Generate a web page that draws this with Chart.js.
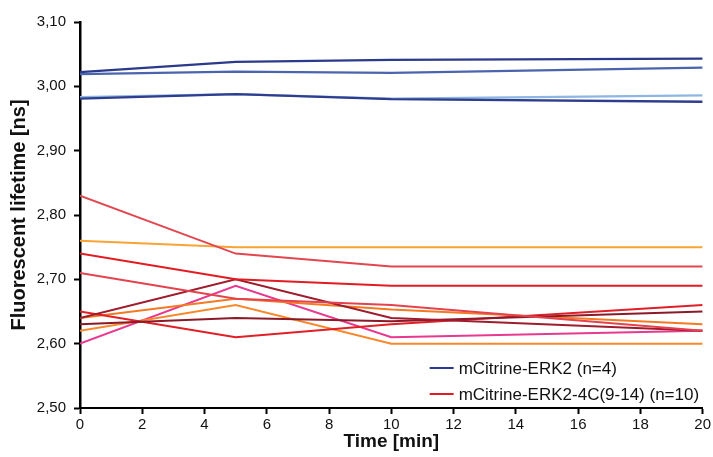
<!DOCTYPE html>
<html><head><meta charset="utf-8">
<script src="https://cdn.jsdelivr.net/npm/chart.js@4"></script>
<style>html,body{margin:0;padding:0;background:#fff}#wrap{width:713px;height:457px}</style>
</head><body><div id="wrap"><canvas id="c" width="713" height="457"></canvas></div>
<script>
const times = [0, 5, 10, 20];
const xTicks = [0, 2, 4, 6, 8, 10, 12, 14, 16, 18, 20];
const yTicks = [2.5, 2.6, 2.7, 2.8, 2.9, 3.0, 3.1];
const legendLabels = ["mCitrine-ERK2 (n=4)", "mCitrine-ERK2-4C(9-14) (n=10)"];

// mCitrine-ERK2 (n=4)
const erk2_1 = [3.022, 3.038, 3.041, 3.043];
const erk2_2 = [3.019, 3.023, 3.021, 3.029];
const erk2_3 = [2.981, 2.988, 2.980, 2.976];
const erk2_4 = [2.983, 2.988, 2.981, 2.986];
const erk2Colors = ["#2c3a8c", "#4a64ae", "#2e3d8e", "#8db6e0"];

// mCitrine-ERK2-4C(9-14) (n=10)
const mut_1 = [2.83, 2.74, 2.72, 2.72];
const mut_2 = [2.76, 2.75, 2.75, 2.75];
const mut_3 = [2.74, 2.70, 2.69, 2.69];
const mut_4 = [2.71, 2.67, 2.66, 2.62];
const mut_5 = [2.64, 2.70, 2.64, 2.62];
const mut_6 = [2.63, 2.64, 2.635, 2.65];
const mut_7 = [2.65, 2.61, 2.63, 2.66];
const mut_8 = [2.64, 2.67, 2.653, 2.63];
const mut_9 = [2.62, 2.66, 2.60, 2.60];
const mut_10 = [2.60, 2.69, 2.61, 2.62];
const mutColors = ["#e2474f", "#f8a435", "#e31b23", "#e4434d", "#9e1c2c", "#8b1a29", "#e11f27", "#f47a22", "#f7892c", "#e8388f"];

const erk2Series = [erk2_1, erk2_2, erk2_3, erk2_4];
const mutSeries = [mut_1, mut_2, mut_3, mut_4, mut_5, mut_6, mut_7, mut_8, mut_9, mut_10];

function mk(vals, color, w) {
  return {
    data: vals.map((v, i) => ({ x: times[i], y: v })),
    borderColor: color, backgroundColor: color, borderWidth: w,
    pointRadius: 0, tension: 0, fill: false
  };
}
const datasets = [];
mutSeries.forEach((s, i) => datasets.push(mk(s, mutColors[i], 2)));
erk2Series.forEach((s, i) => datasets.push(mk(s, erk2Colors[i], 2.3)));

const FONT = "'Liberation Sans', Arial, sans-serif";

const legendPlugin = {
  id: 'insideLegend',
  afterDatasetsDraw(chart) {
    const ctx = chart.ctx, a = chart.chartArea;
    const items = [[legendLabels[0], "#2c3a8c"], [legendLabels[1], "#e31b23"]];
    ctx.save();
    ctx.font = "17px " + FONT;
    ctx.textBaseline = 'middle';
    items.forEach((it, i) => {
      const y = a.bottom - 40 + i * 26;
      const x0 = a.right - 273;
      ctx.strokeStyle = it[1]; ctx.lineWidth = 2;
      ctx.beginPath(); ctx.moveTo(x0, y); ctx.lineTo(x0 + 24, y); ctx.stroke();
      ctx.fillStyle = '#111';
      ctx.fillText(it[0], x0 + 29, y + 1);
    });
    ctx.restore();
  }
};

new Chart(document.getElementById('c'), {
  type: 'line',
  data: { datasets },
  plugins: [legendPlugin],
  options: {
    responsive: false, animation: false,
    layout: { padding: { left: 0, top: 22, right: 7, bottom: 0 } },
    plugins: { legend: { display: false }, tooltip: { enabled: false } },
    scales: {
      x: {
        type: 'linear', min: 0, max: 20,
        afterBuildTicks: s => { s.ticks = xTicks.map(v => ({ value: v })); },
        afterFit: s => { s.height = 49; },
        ticks: { color: '#111', font: { size: 15, family: FONT }, padding: 2, maxRotation: 0 },
        grid: { drawOnChartArea: false, drawTicks: true, tickLength: 6, tickColor: '#000', tickWidth: 2 },
        border: { display: true, color: '#000', width: 2 },
        title: { display: true, text: 'Time [min]', color: '#111', font: { size: 19, weight: 'bold', family: FONT }, padding: { top: 0, bottom: 4 } }
      },
      y: {
        type: 'linear', min: 2.5, max: 3.1,
        afterBuildTicks: s => { s.ticks = yTicks.map(v => ({ value: v })); },
        afterFit: s => { s.width = 80; },
        ticks: { color: '#111', font: { size: 15, family: FONT }, padding: 8,
          callback: v => Number(v).toFixed(2).replace('.', ',') },
        grid: { drawOnChartArea: false, drawTicks: true, tickLength: 6, tickColor: '#000', tickWidth: 2 },
        border: { display: true, color: '#000', width: 2.5 },
        title: { display: true, text: 'Fluorescent lifetime [ns]', color: '#111', font: { size: 20, weight: 'bold', family: FONT }, padding: { top: 7, bottom: 0 } }
      }
    }
  }
});
</script></body></html>
